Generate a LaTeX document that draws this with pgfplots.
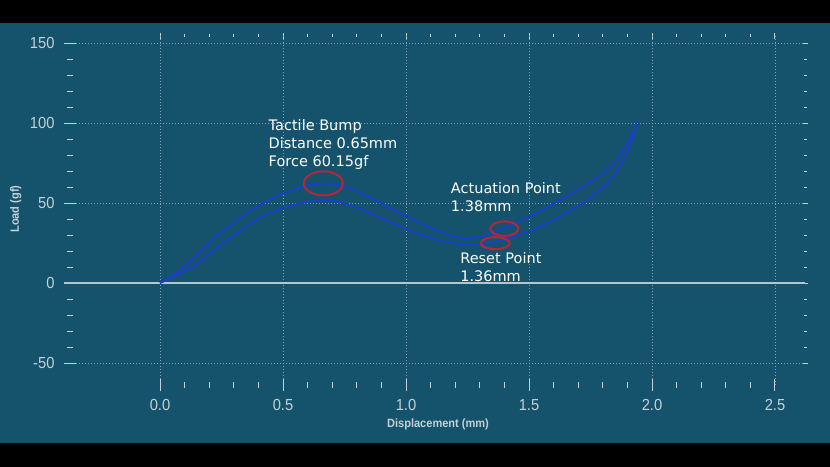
\documentclass[border=0pt]{standalone}
\usepackage{fontspec}
\setmainfont{DejaVu Sans}
\newfontfamily\narrowsans[FakeStretch=0.92]{Liberation Sans}
\usepackage{pgfplots}
\pgfplotsset{compat=1.18}
\usepackage{pgfplotstable}

\definecolor{bgteal}{RGB}{20,83,107}
\definecolor{tickgray}{RGB}{196,208,214}
\definecolor{gridgray}{RGB}{125,163,180}
\definecolor{zerogray}{RGB}{180,198,206}
\definecolor{curveblue}{RGB}{28,62,205}
\definecolor{ringred}{RGB}{176,40,62}

% press stroke (upper branch)
\pgfplotstableread{
x      y
0      0
0.03   2.5
0.055  5.0
0.095  9.8
0.135  15.4
0.176  21.7
0.23   29.4
0.298  37.3
0.366  45.2
0.434  51.4
0.50   56.0
0.583  60.2
0.62   61.6
0.66   62.2
0.70   61.8
0.745  60.4
0.80   57.4
0.867  52.3
0.94   46.6
1.003  41.6
1.07   36.6
1.138  32.1
1.19   29.3
1.24   28.0
1.30   28.9
1.35   31.0
1.40   34.2
1.465  38.8
1.53   43.8
1.60   49.6
1.667  55.5
1.735  61.8
1.80   68.5
1.84   74.0
1.87   80.0
1.90   87.5
1.92   93.5
1.938  100.8
}\press

% release stroke (lower branch)
\pgfplotstableread{
x      y
0      0
0.055  3.9
0.095  7.1
0.135  10.2
0.176  15.0
0.23   22.0
0.298  29.8
0.366  37.3
0.434  43.1
0.50   47.1
0.583  50.2
0.62   51.3
0.66   51.9
0.70   51.4
0.745  50.0
0.80   47.2
0.867  42.8
0.94   37.8
1.003  33.6
1.07   29.7
1.138  26.5
1.18   25.2
1.22   24.4
1.27   24.1
1.32   24.6
1.362  25.8
1.409  27.8
1.465  30.6
1.53   34.2
1.60   39.6
1.667  45.3
1.735  51.6
1.80   60.0
1.84   66.5
1.87   73.0
1.90   81.5
1.92   90.0
1.938  100.8
}\release

\pgfplotsset{
  frame/.style={
    at={(70bp,82bp)}, anchor=south west,
    scale only axis, width=735bp, height=349bp,
    xmin=-0.366, xmax=2.622, ymin=-63.75, ymax=154.4,
    axis line style={draw=none},
    xtick={0,0.5,1,1.5,2,2.5},
    ytick={-50,0,50,100,150},
    minor x tick num=4, minor y tick num=4,
    tick align=center,
    tick style={color=tickgray, line width=1bp},
  },
}

\begin{document}
\begin{tikzpicture}
\fill[black] (0,0) rectangle (830bp,467bp);
\fill[bgteal] (0,24bp) rectangle (830bp,444bp);

% top and right ticks, shorter
\begin{axis}[frame,
  xtick pos=top, ytick pos=right,
  xticklabels={}, yticklabels={},
  major tick length=6bp, minor tick length=3bp,
]
\end{axis}

\begin{axis}[frame,
  clip=false,
  xtick pos=bottom, ytick pos=left,
  major tick length=12bp, minor tick length=6bp,
  xticklabels={0.0,0.5,1.0,1.5,2.0,2.5},
  yticklabels={-50,0,50,100,150},
  ticklabel style={color=tickgray, font=\narrowsans\fontsize{16bp}{16bp}\selectfont},
  xticklabel style={yshift=-4.5bp},
  yticklabel style={xshift=-6bp},
  grid=major,
  major grid style={color=gridgray, line width=0.8bp, dash pattern=on 1bp off 2bp},
  xlabel={Displacement (mm)},
  ylabel={Load (gf)},
  label style={color=tickgray, font=\narrowsans\bfseries\fontsize{12bp}{12bp}\selectfont},
  xlabel style={at={(axis description cs:0.5007,-0.1117)}, anchor=center},
  ylabel style={at={(axis description cs:-0.0739,0.504)}, anchor=center},
]
\draw[zerogray, line width=1.2bp] (axis cs:-0.39,0) -- (axis cs:2.622,0);

\addplot[curveblue, line width=1.8bp, smooth, tension=0.35] table[x=x, y=y] {\press};
\addplot[curveblue, line width=1.8bp, smooth, tension=0.35] table[x=x, y=y] {\release};

\draw[ringred, line width=2bp] (axis cs:0.664,62.3) ellipse [x radius=19.5bp, y radius=12bp];
\draw[ringred, line width=2bp] (axis cs:1.40,34.0) ellipse [x radius=14bp, y radius=7.2bp];
\draw[ringred, line width=2bp] (axis cs:1.363,24.9) ellipse [x radius=14.5bp, y radius=6bp];

\begin{scope}[every node/.style={anchor=base west, inner sep=0pt, text=white,
    font=\fontsize{14.5bp}{14.5bp}\selectfont}]
\node at (axis cs:0.441,95.6) {Tactile Bump};
\node at (axis cs:0.441,84.2) {Distance 0.65mm};
\node at (axis cs:0.441,72.7) {Force 60.15gf};
\node at (axis cs:1.182,56.1) {Actuation Point};
\node at (axis cs:1.182,45.0) {1.38mm};
\node at (axis cs:1.22,12.3) {Reset Point};
\node at (axis cs:1.22,0.8) {1.36mm};
\end{scope}
\end{axis}

\pgfresetboundingbox
\path[use as bounding box] (0,0) rectangle (830bp,467bp);
\end{tikzpicture}
\end{document}
